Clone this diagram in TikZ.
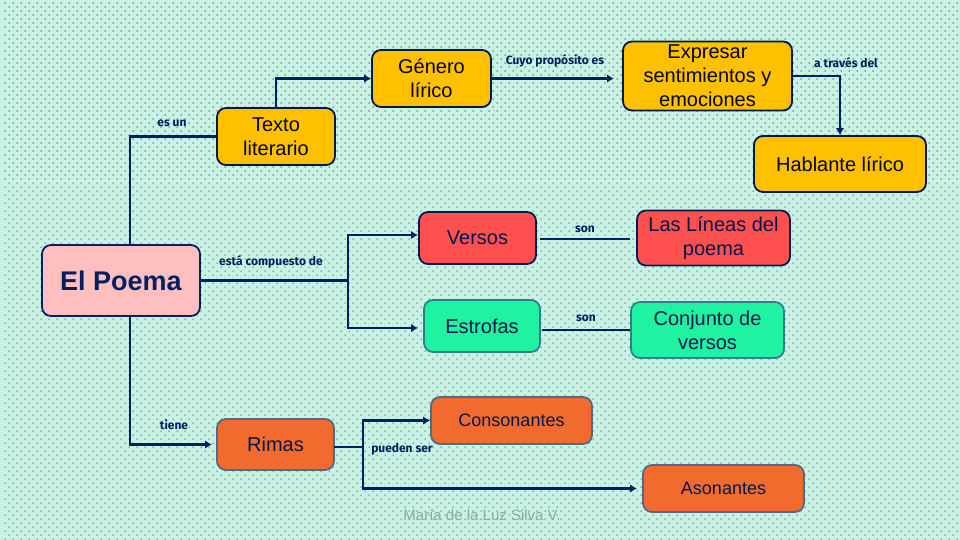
\documentclass[tikz,border=0pt]{standalone}
\usepackage{fontspec}
\setmainfont{Liberation Sans}
\newfontfamily\labfont{Fira Sans}
\usetikzlibrary{arrows.meta}
\definecolor{bgc}{HTML}{C8F3E4}
\definecolor{navy}{HTML}{002060}
\definecolor{goldc}{HTML}{FFC000}
\definecolor{redc}{HTML}{FF5050}
\definecolor{greenc}{HTML}{1FF2A0}
\definecolor{pinkc}{HTML}{FFBFBF}
\definecolor{orangec}{HTML}{F26B2E}
\definecolor{tealb}{HTML}{2F7F8F}
\definecolor{slateb}{HTML}{51698A}
\tikzset{
  x=1pt,y=-1pt,
  box/.style={rounded corners=9pt,line width=1.8pt,align=center,inner sep=0pt,
    font=\fontsize{20}{24}\selectfont},
  goldbox/.style={box,draw=navy!80!black,fill=goldc,text=black!85!navy},
  redbox/.style={box,draw=navy!85!black,fill=redc,text=navy!80!black},
  greenbox/.style={box,draw=tealb,fill=greenc,text=navy!80!black},
  orangebox/.style={box,draw=slateb,fill=orangec,text=navy!80!black,font=\fontsize{18}{22}\selectfont},
  link/.style={draw=navy,line width=2.5pt},
  linkarrow/.style={link,-{Latex[length=7pt,width=8.5pt]}},
  lab/.style={text=navy,font=\labfont\fontsize{12}{14}\selectfont\bfseries,inner sep=0pt},
}
\begin{document}
\begin{tikzpicture}
\useasboundingbox (0,0) rectangle (960,540);
\fill[bgc] (0,0) rectangle (960,540);
% dotted background
\foreach \r in {0,...,134}{
  \pgfmathsetmacro{\xo}{mod(\r,2)==0 ? 4.5 : 8.5}
  \fill[black!70!bgc] \foreach \c in {0,...,119}{
    ({\xo+8*\c},{2.5+4*\r}) rectangle +(1.2,1.2)};
}
% nodes
\node[goldbox,minimum width=119,minimum height=57] (g) at (431.5,78.5) {Género\\lírico};
\node[goldbox,minimum width=118,minimum height=57] (t) at (276,136.5) {Texto\\literario};
\node[goldbox,minimum width=169,minimum height=69] (e) at (707.5,76) {Expresar\\sentimientos y\\emociones};
\node[goldbox,minimum width=172,minimum height=56] (h) at (840,164) {Hablante lírico};
\node[redbox,minimum width=117,minimum height=52] (v) at (477.5,238) {Versos};
\node[redbox,minimum width=153,minimum height=55] (l) at (713.5,238) {Las Líneas del\\poema};
\node[greenbox,minimum width=116,minimum height=52] (s) at (482,326) {Estrofas};
\node[greenbox,minimum width=153,minimum height=56] (c) at (707.5,330) {Conjunto de\\versos};
\node[box,draw=navy,fill=pinkc,text=navy,minimum width=158,minimum height=71,
  font=\fontsize{27}{30}\selectfont\bfseries] (p) at (121,280.5) {El Poema};
\node[orangebox,minimum width=117,minimum height=51,font=\fontsize{20}{24}\selectfont] (r) at (275.5,444.5) {Rimas};
\node[orangebox,minimum width=161,minimum height=47] (o) at (511.5,420.5) {Consonantes};
\node[orangebox,minimum width=161,minimum height=47] (a) at (723.5,488.5) {Asonantes};
% junctions and free ends
\coordinate (ptop) at (130,245);
\coordinate (pbot) at (130,316);
\coordinate (j1) at (348,280.5);
\coordinate (j2) at (363,447);
\coordinate (rr) at (334,447);
\coordinate (ein) at (614,78.5);
\coordinate (vout) at (540,239);
\coordinate (vend) at (630,239);
\coordinate (sout) at (542,330);
\coordinate (rin) at (212,444.5);
\coordinate (ain) at (637,488.5);
\coordinate (vin) at (418,235);
\coordinate (sin) at (418,328);
% connectors
\draw[link] (t.west) -| (ptop);
\draw[linkarrow] (t.north) |- (g.west);
\draw[linkarrow] (g.east) -- (ein);
\draw[linkarrow] (e.east) -| (h.north);
\draw[link] (p.east) -- (j1);
\draw[linkarrow] (j1) |- (vin);
\draw[linkarrow] (j1) |- (sin);
\draw[link] (vout) -- (vend);
\draw[link] (sout) -- (c.west |- sout);
\draw[linkarrow] (pbot) |- (rin);
\draw[link] (rr) -- (j2);
\draw[linkarrow] (j2) |- (o.west);
\draw[linkarrow] (j2) |- (ain);
% labels
\node[lab] (l1) at (172,123) {es un};
\node[lab] (l2) at (555,61) {Cuyo propósito es};
\node[lab] (l3) at (846,63) {a través del};
\node[lab] (l4) at (585,229) {son};
\node[lab] (l5) at (271,262) {está compuesto de};
\node[lab] (l6) at (586,318) {son};
\node[lab] (l7) at (174,425) {tiene};
\node[lab] (l8) at (402,449) {pueden ser};
\node[text=black!30!bgc,font=\fontsize{15}{17}\selectfont,inner sep=0pt] (w) at (482,515) {María de la Luz Silva V.};
\end{tikzpicture}
\end{document}
